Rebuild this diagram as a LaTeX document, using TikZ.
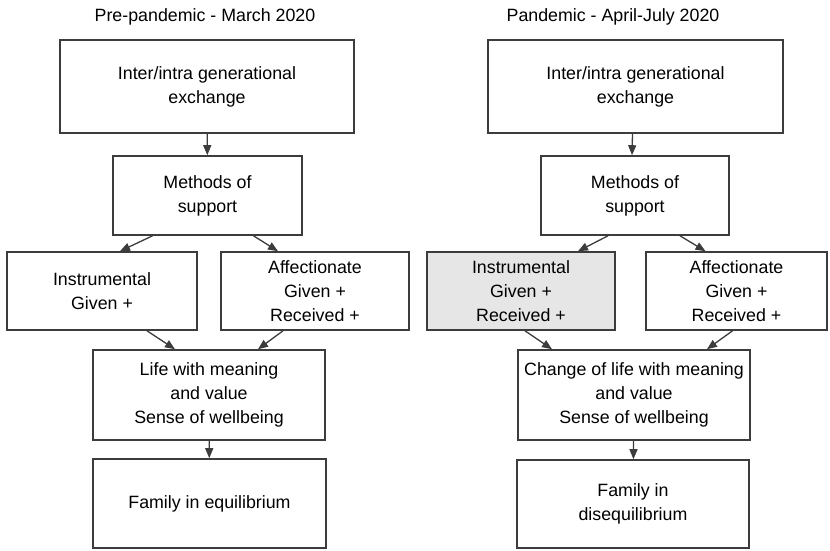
\documentclass[tikz,border=0pt]{standalone}
\usepackage{fontspec}
\setmainfont{Liberation Sans}
\usetikzlibrary{arrows.meta}
\definecolor{boxline}{RGB}{60, 60, 60}
\definecolor{boxgray}{RGB}{230, 230, 230}

\begin{document}
\begin{tikzpicture}[x=1pt, y=-1pt,
    box/.style={draw=boxline, line width=1.6pt, fill=white, align=center, inner sep=2pt},
    arr/.style={-{Triangle[length=10pt, width=8pt]}, line width=1.3pt, draw=boxline},
    every node/.style={font=\fontsize{17.8}{24}\selectfont}]
    \useasboundingbox (0,0) rectangle (830,550);

    % Titles
    \node (titleA) at (205,17) {Pre-pandemic - March 2020};
    \node (titleB) at (613,17) {Pandemic - April-July 2020};

    % Left panel: pre-pandemic
    \node[box, minimum width=294pt, minimum height=93pt] (genA) at (207,86.5) {Inter/intra generational\\exchange};
    \node[box, minimum width=189pt, minimum height=79pt] (methA) at (207.5,195.5) {Methods of\\support};
    \node[box, minimum width=190pt, minimum height=78pt] (instA) at (102,291) {Instrumental\\Given +};
    \node[box, minimum width=188pt, minimum height=78pt] (affA) at (315,291) {Affectionate\\Given +\\Received +};
    \node[box, minimum width=232pt, minimum height=90pt] (lifeA) at (209,395) {Life with meaning\\and value\\Sense of wellbeing};
    \node[box, minimum width=233pt, minimum height=89pt] (famA) at (209.5,503.5) {Family in equilibrium};

    \draw[arr] (genA) -- (methA);
    \draw[arr] ([xshift=-55pt]methA.south) -- ([xshift=18pt]instA.north);
    \draw[arr] ([xshift=46pt]methA.south) -- ([xshift=-37pt]affA.north);
    \draw[arr] ([xshift=45pt]instA.south) -- ([xshift=-34pt]lifeA.north);
    \draw[arr] ([xshift=-32pt]affA.south) -- ([xshift=49pt]lifeA.north);
    \draw[arr] (lifeA) -- (famA);

    % Right panel: pandemic
    \node[box, minimum width=295pt, minimum height=93pt] (genB) at (635.5,86.5) {Inter/intra generational\\exchange};
    \node[box, minimum width=188pt, minimum height=79pt] (methB) at (635,195.5) {Methods of\\support};
    \node[box, fill=boxgray, minimum width=188pt, minimum height=78pt] (instB) at (521,291) {Instrumental\\Given +\\Received +};
    \node[box, minimum width=181pt, minimum height=78pt] (affB) at (736.5,291) {Affectionate\\Given +\\Received +};
    \node[box, minimum width=232pt, minimum height=90pt] (chgB) at (634,395) {Change of life with meaning\\and value\\Sense of wellbeing};
    \node[box, minimum width=232pt, minimum height=88pt] (famB) at (633,504) {Family in\\disequilibrium};

    \draw[arr] ([xshift=-3pt]genB.south) -- ([xshift=-3pt]methB.north);
    \draw[arr] ([xshift=-27pt]methB.south) -- ([xshift=57pt]instB.north);
    \draw[arr] ([xshift=45pt]methB.south) -- ([xshift=-31pt]affB.north);
    \draw[arr] ([xshift=4pt]instB.south) -- ([xshift=-82pt]chgB.north);
    \draw[arr] ([xshift=-4pt]affB.south) -- ([xshift=73pt]chgB.north);
    \draw[arr] (chgB) -- (famB);
\end{tikzpicture}
\end{document}
